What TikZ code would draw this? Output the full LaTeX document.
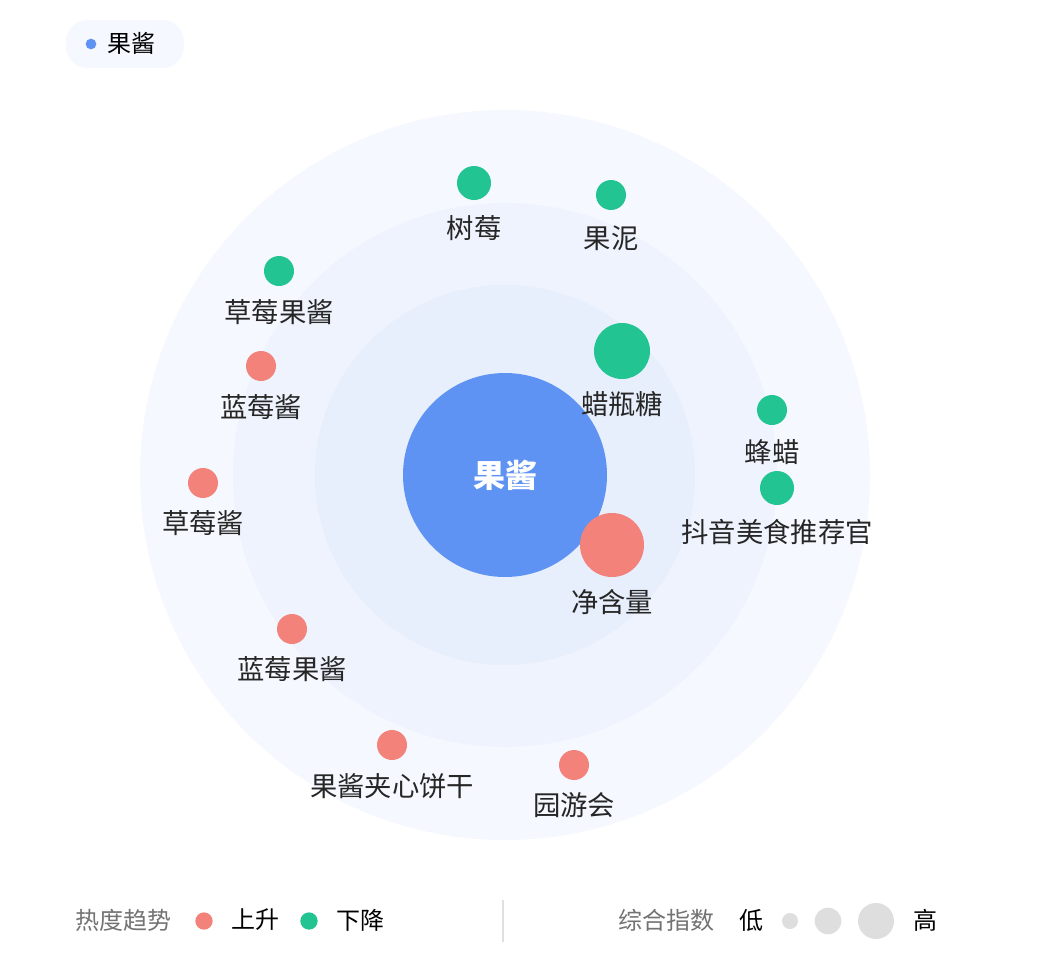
\documentclass[tikz,border=0pt]{standalone}
\usepackage{fontspec}
\setmainfont{Noto Sans CJK SC}
\begin{document}
\begin{tikzpicture}[x=0.75pt,y=-0.75pt,
  lbl/.style={font=\fontsize{20.5}{23}\selectfont,text=black!85},
  leg/.style={font=\fontsize{18}{21}\selectfont},
  up/.style={circle,fill=upc,inner sep=0pt},
  down/.style={circle,fill=downc,inner sep=0pt}]
\definecolor{upc}{HTML}{F2827A}
\definecolor{downc}{HTML}{22C491}
\definecolor{mainc}{HTML}{5E92F3}
\definecolor{ring1}{HTML}{F5F8FE}
\definecolor{ring2}{HTML}{EEF3FD}
\definecolor{ring3}{HTML}{E7EEFC}
\useasboundingbox (0,0) rectangle (1048,964);
\fill[white] (0,0) rectangle (1048,964);
\fill[ring1] (505,475) circle (365);
\fill[ring2] (505,475) circle (272);
\fill[ring3] (505,475) circle (190);
\node[circle,fill=mainc,minimum size=204pt*0.75,text=white,font=\fontsize{24}{27}\selectfont\bfseries] (c) at (505,475) {果酱};
% top legend
\fill[ring1,rounded corners=16pt] (66,20) rectangle (184,68);
\node[circle,fill=mainc,minimum size=8pt,inner sep=0pt] (ld) at (91,44) {};
\node[leg,anchor=west] (lt) at (103,43) {果酱};
% nodes
\node[down,minimum size=25.5pt] (n1) at (474,183) {}; \node[lbl] (t1) at (474,228) {树莓};
\node[down,minimum size=22.5pt] (n2) at (611,195) {}; \node[lbl] (t2) at (611,238) {果泥};
\node[down,minimum size=22.5pt] (n3) at (279,271) {}; \node[lbl] (t3) at (279,312) {草莓果酱};
\node[up,minimum size=22.5pt] (n4) at (261,366) {}; \node[lbl] (t4) at (261,407) {蓝莓酱};
\node[down,minimum size=42pt] (n5) at (622,351) {}; \node[lbl] (t5) at (622,404) {蜡瓶糖};
\node[down,minimum size=22.5pt] (n6) at (772,410) {}; \node[lbl] (t6) at (772,452) {蜂蜡};
\node[down,minimum size=25.5pt] (n7) at (777,488) {}; \node[lbl] (t7) at (777,532) {抖音美食推荐官};
\node[up,minimum size=22.5pt] (n8) at (203,483) {}; \node[lbl] (t8) at (203,523) {草莓酱};
\node[up,minimum size=48pt] (n9) at (612,545) {}; \node[lbl] (t9) at (612,602) {净含量};
\node[up,minimum size=22.5pt] (n10) at (292,629) {}; \node[lbl] (t10) at (292,669) {蓝莓果酱};
\node[up,minimum size=22.5pt] (n11) at (392,745) {}; \node[lbl] (t11) at (392,786) {果酱夹心饼干};
\node[up,minimum size=22.5pt] (n12) at (574,765) {}; \node[lbl] (t12) at (574,805) {园游会};
% bottom legend
\node[leg,text=black!55] (b1) at (123,920) {热度趋势};
\node[up,minimum size=13pt] (b2) at (204,921) {};
\node[leg] (b3) at (255,920) {上升};
\node[down,minimum size=13pt] (b4) at (309,921) {};
\node[leg] (b5) at (360,920) {下降};
\coordinate (d1) at (503,900); \coordinate (d2) at (503,942);
\draw[black!12,line width=1pt] (d1) -- (d2);
\node[leg,text=black!55] (b6) at (666,920) {综合指数};
\node[leg] (b7) at (751,920) {低};
\node[circle,fill=black!13,minimum size=12pt,inner sep=0pt] (s1) at (790,921) {};
\node[circle,fill=black!13,minimum size=20pt,inner sep=0pt] (s2) at (828,921) {};
\node[circle,fill=black!13,minimum size=27pt,inner sep=0pt] (s3) at (876,921) {};
\node[leg] (b8) at (925,920) {高};
\end{tikzpicture}
\end{document}
